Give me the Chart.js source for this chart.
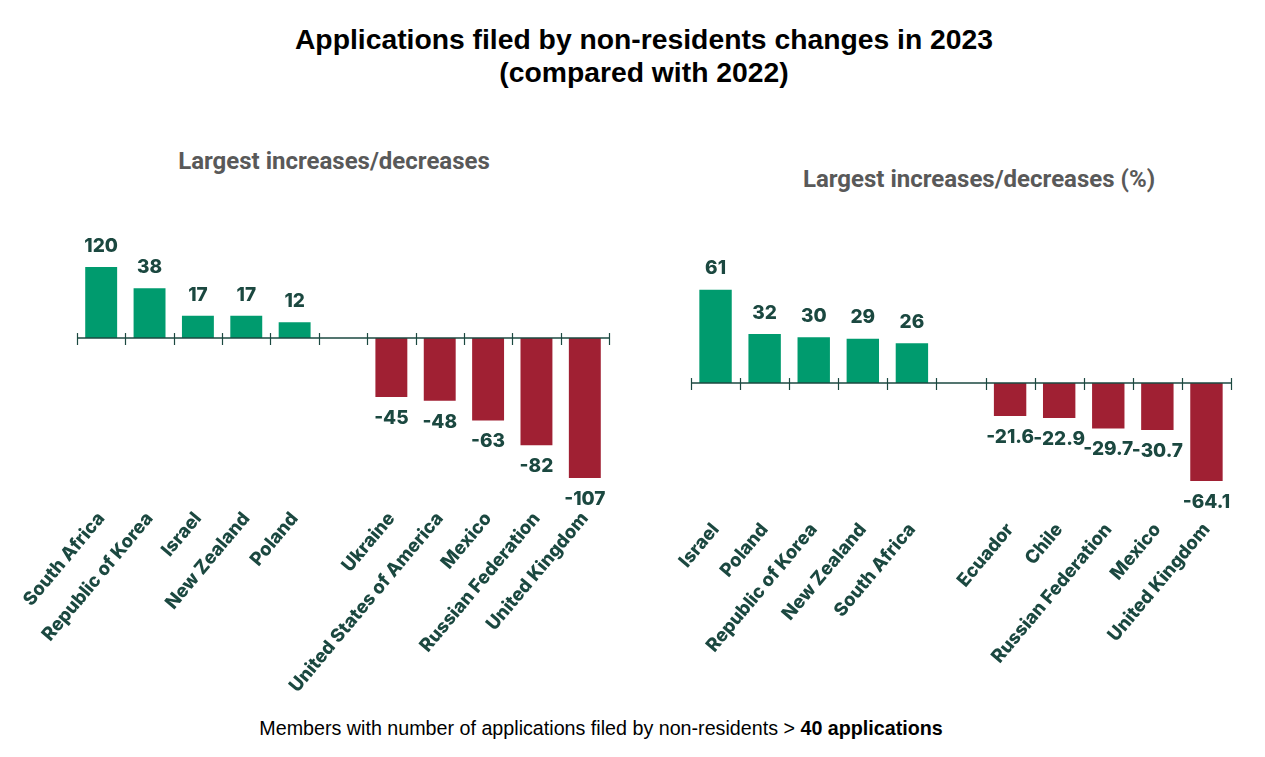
<!DOCTYPE html>
<html>
<head>
<meta charset="utf-8">
<script src="https://cdn.jsdelivr.net/npm/chart.js@4.4.1/dist/chart.umd.min.js"></script>
<style>
    html, body { margin: 0; padding: 0; background: #fff; }
    body { width: 1265px; height: 757px; position: relative; overflow: hidden; }
    .title {
        position: absolute; left: 0; top: 40px; width: 1288px; text-align: center;
        transform: translateY(-50%);
        font: bold 28.3px "Liberation Sans", Arial, sans-serif; line-height: 33px; color: #000;
        margin-top: 16px;
    }
    .sub {
        position: absolute; font: bold 24px Roboto, sans-serif; color: #595959;
        transform: translate(-50%, -50%); white-space: nowrap;
    }
    .note {
        position: absolute; left: 601px; top: 728px; transform: translate(-50%, -50%);
        font: 19.7px "Liberation Sans", Arial, sans-serif; color: #000; white-space: nowrap;
    }
    .box { position: absolute; }
</style>
</head>
<body>
<div class="title">Applications filed by non-residents changes in 2023<br>(compared with 2022)</div>
<div class="sub" style="left:334px; top:161px;">Largest increases/decreases</div>
<div class="sub" style="left:979px; top:179px;">Largest increases/decreases (%)</div>
<div class="box" style="left:0; top:200px; width:640px; height:505px;"><canvas id="left-chart"></canvas></div>
<div class="box" style="left:640px; top:200px; width:625px; height:505px;"><canvas id="right-chart"></canvas></div>
<div class="note">Members with number of applications filed by non-residents &gt; <b>40 applications</b></div>

<script>
// absolute change in number of applications
const absCountries = ['South Africa', 'Republic of Korea', 'Israel', 'New Zealand', 'Poland', '',
    'Ukraine', 'United States of America', 'Mexico', 'Russian Federation', 'United Kingdom'];
const absValues = [120, 38, 17, 17, 12, null, -45, -48, -63, -82, -107];

// change in percent
const pctCountries = ['Israel', 'Poland', 'Republic of Korea', 'New Zealand', 'South Africa', '',
    'Ecuador', 'Chile', 'Russian Federation', 'Mexico', 'United Kingdom'];
const pctValues = [61, 32, 30, 29, 26, null, -21.6, -22.9, -29.7, -30.7, -64.1];

const GREEN = '#009b6e';
const RED = '#a02033';
const INK = '#1b4840';

// zero line, tick marks and value labels
const axisAndLabels = {
    id: 'axisAndLabels',
    afterDatasetsDraw(chart) {
        const ctx = chart.ctx;
        const x = chart.scales.x;
        const y = chart.scales.y;
        const y0 = y.getPixelForValue(0);
        const n = chart.data.labels.length;

        ctx.save();
        ctx.strokeStyle = INK;
        ctx.lineWidth = 1.5;
        ctx.beginPath();
        ctx.moveTo(x.getPixelForValue(-0.5), y0);
        ctx.lineTo(x.getPixelForValue(n - 0.5), y0);
        ctx.stroke();

        ctx.lineWidth = 1.2;
        for (let i = 0; i <= n; i++) {
            const tx = Math.round(x.getPixelForValue(i - 0.5)) + 0.5;
            ctx.beginPath();
            ctx.moveTo(tx, y0 - 5);
            ctx.lineTo(tx, y0 + 7);
            ctx.stroke();
        }

        ctx.fillStyle = INK;
        ctx.font = '800 19px Inter, sans-serif';
        ctx.textAlign = 'center';
        ctx.textBaseline = 'middle';
        const meta = chart.getDatasetMeta(0);
        const values = chart.data.datasets[0].data;
        meta.data.forEach((bar, i) => {
            const v = values[i];
            if (v === null) return;
            if (v >= 0) {
                const top = Math.max(bar.y, chart.chartArea.top);
                ctx.fillText(String(v), bar.x, top - 21);
            } else {
                ctx.fillText(String(v), bar.x, bar.y + 21);
            }
        });
        ctx.restore();
    }
};

function makeChart(id, labels, values, yMin, yMax, pad, axisHeight) {
    const ctx = document.getElementById(id).getContext('2d');
    return new Chart(ctx, {
        type: 'bar',
        data: {
            labels: labels,
            datasets: [{
                data: values,
                backgroundColor: values.map(v => v >= 0 ? GREEN : RED),
                barPercentage: 0.66,
                categoryPercentage: 1,
                clip: 0
            }]
        },
        options: {
            responsive: true,
            maintainAspectRatio: false,
            animation: false,
            layout: { padding: pad },
            plugins: {
                legend: { display: false },
                tooltip: { enabled: false }
            },
            scales: {
                x: {
                    grid: { display: false, drawTicks: false },
                    border: { display: false },
                    ticks: {
                        color: INK,
                        font: { family: 'Inter', size: 18.5, weight: 800 },
                        minRotation: 50,
                        maxRotation: 50,
                        autoSkip: false,
                        padding: 13
                    },
                    afterFit(scale) { scale.height = axisHeight; }
                },
                y: {
                    display: false,
                    min: yMin,
                    max: yMax
                }
            }
        },
        plugins: [axisAndLabels]
    });
}

makeChart('left-chart', absCountries, absValues, -120, 54.3,
    { left: 77, right: 31, top: 67, bottom: 5 }, 205);
makeChart('right-chart', pctCountries, pctValues, -80.4, 65.4,
    { left: 51, right: 34, top: 83, bottom: 0 }, 199);
</script>
</body>
</html>
